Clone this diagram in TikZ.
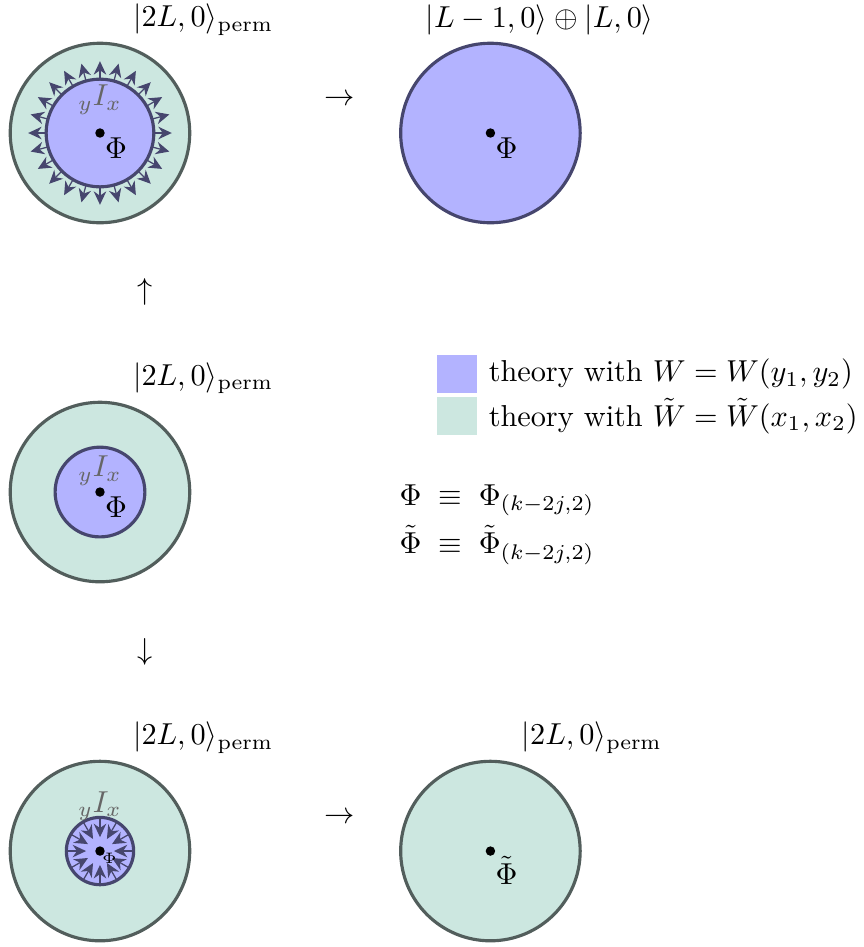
\documentclass[tikz,border=0pt]{standalone}
\usepackage{amsmath}
\usetikzlibrary{arrows.meta,positioning}
\definecolor{azul}{RGB}{179,179,255}
\definecolor{verde}{RGB}{204,231,224}
\definecolor{borde}{RGB}{82,94,92}
\definecolor{bordeaz}{RGB}{70,70,110}
\tikzset{
  >={Stealth[length=1.5mm, width=1.4mm]},
  every node/.style={scale=0.96},
  exterior/.style={fill=verde, draw=borde, line width=1pt},
  interior/.style={fill=azul, draw=bordeaz, line width=1pt},
  flecha/.style={->, bordeaz, thin},
  etiq/.style={black!60},
  caja/.style={minimum width=0.47cm, minimum height=0.44cm, inner sep=0pt},
}

\begin{document}
\begin{tikzpicture}
  \useasboundingbox (-1.114,-9.069) rectangle (8.512,1.482);
  % arriba izquierda
  \draw[exterior] (0,0) circle (1);
  \draw[interior] (0,0) circle (0.6);
  \foreach \a in {0,15,...,345}
    \draw[flecha] (\a:0.6) -- (\a:0.8);
  \node[etiq] (iA) at (0,0.37) {$_yI_x$};
  \fill (0,0) circle (1.5pt) node[below right, inner sep=1.5pt] (phiA) {$\Phi$};
  \node (kA) at (1.15,1.26) {$|2L,0\rangle_{\mathrm{perm}}$};
  % arriba derecha
  \draw[interior] (4.35,0) circle (1);
  \fill (4.35,0) circle (1.5pt) node[below right, inner sep=1.5pt] (phiB) {$\Phi$};
  \node (kB) at (4.90,1.26) {$|L-1,0\rangle\oplus|L,0\rangle$};
  \node (fA) at (2.67,0.37) {$\rightarrow$};
  \node (fB) at (0.5,-1.77) {$\uparrow$};
  % centro
  \draw[exterior] (0,-4) circle (1);
  \draw[interior] (0,-4) circle (0.5);
  \node[etiq] (iC) at (0,-3.765) {$_yI_x$};
  \fill (0,-4) circle (1.5pt) node[below right, inner sep=1.5pt] (phiC) {$\Phi$};
  \node (kC) at (1.15,-2.73) {$|2L,0\rangle_{\mathrm{perm}}$};
  % leyenda
  \node[caja, fill=azul] (cajaA) at (3.98,-2.685) {};
  \node[caja, fill=verde] (cajaB) at (3.98,-3.153) {};
  \node[right=0pt of cajaA] (leyA) {theory with $W=W(y_1,y_2)$};
  \node[right=0pt of cajaB] (leyB) {theory with $\tilde W=\tilde W(x_1,x_2)$};
  \node[anchor=west] (defA) at (3.22,-4.09) {$\Phi\;\equiv\;\Phi_{(k-2j,2)}$};
  \node[anchor=west] (defB) at (3.22,-4.59) {$\tilde\Phi\;\equiv\;\tilde\Phi_{(k-2j,2)}$};
  \node (fC) at (0.5,-5.78) {$\downarrow$};
  % abajo
  \draw[exterior] (0,-8) circle (1);
  \draw[interior] (0,-8) circle (0.375);
  \foreach \a in {0,30,...,330}
    \draw[flecha] (\a:0.375) ++(0,-8) -- ++(\a+180:0.22);
  \node[etiq] (iD) at (0,-7.5) {$_yI_x$};
  \fill (0,-8) circle (1.5pt) node[below right, inner sep=0.5pt, font=\tiny] (phiD) {$\Phi$};
  \node (kD) at (1.15,-6.74) {$|2L,0\rangle_{\mathrm{perm}}$};
  \node (fD) at (2.67,-7.63) {$\rightarrow$};
  \draw[exterior] (4.35,-8) circle (1);
  \fill (4.35,-8) circle (1.5pt) node[below right, inner sep=1.5pt] (phiE) {$\tilde\Phi$};
  \node (kE) at (5.48,-6.74) {$|2L,0\rangle_{\mathrm{perm}}$};
\end{tikzpicture}
\end{document}
